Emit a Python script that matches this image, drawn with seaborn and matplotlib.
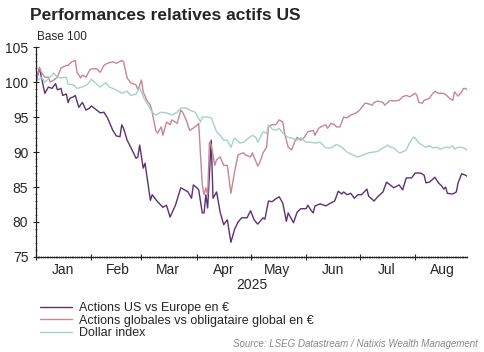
import numpy as np
import pandas as pd
import matplotlib
matplotlib.use('Agg')
import matplotlib.pyplot as plt
import matplotlib.dates as mdates
from matplotlib.ticker import MultipleLocator
import seaborn as sns

# values (days since 2025-01-01, index base 100)
us_eu_days = [0, 2, 5, 7, 9, 11, 12, 14, 15, 17, 18, 19, 21, 22, 24, 26, 28, 30, 31, 34,
              36, 38, 40, 43, 45, 47, 48, 49, 51, 53, 56, 57, 58, 60, 61, 64, 65, 68, 71, 73,
              75, 78, 81, 83, 85, 87, 88, 90, 91, 93, 94, 95, 96, 98, 99, 101, 103, 105, 106, 107,
              109, 111, 113, 115, 118, 120, 122, 124, 127, 128, 130, 132, 134, 136, 138, 140, 141, 144, 146, 148,
              151, 152, 154, 155, 156, 159, 162, 164, 167, 169, 171, 172, 174, 176, 178, 180, 182, 185, 186, 189,
              191, 194, 196, 198, 200, 203, 205, 207, 210, 212, 215, 217, 218, 220, 223, 225, 227, 228, 229, 230,
              233, 235, 236, 238, 240, 242]
us_eu = [100.0, 102.0, 98.4, 99.3, 99.1, 99.8, 98.9, 99.1, 98.1, 98.3, 97.1, 97.7, 97.9, 98.1, 96.4, 97.1, 96.0, 96.3, 96.6, 96.0,
         95.6, 95.7, 94.9, 93.1, 92.3, 92.2, 93.9, 93.4, 91.7, 90.7, 89.1, 89.3, 91.0, 87.7, 88.4, 83.1, 83.9, 82.9, 82.1, 82.4,
         80.7, 82.4, 84.9, 84.6, 84.3, 83.4, 85.3, 84.9, 84.6, 81.3, 81.3, 83.9, 82.0, 91.7, 83.4, 84.3, 81.4, 79.6, 80.0, 80.3,
         77.1, 78.9, 80.0, 80.6, 80.6, 81.6, 80.3, 79.7, 80.6, 80.4, 83.0, 82.9, 83.3, 83.6, 82.7, 80.1, 81.3, 79.9, 81.4, 81.9,
         81.9, 82.4, 81.6, 81.3, 82.3, 82.6, 82.3, 82.6, 83.0, 84.4, 84.0, 84.3, 83.9, 84.1, 83.4, 83.9, 83.9, 84.7, 83.7, 83.0,
         83.6, 84.3, 85.7, 85.3, 84.9, 85.3, 84.6, 86.3, 86.3, 87.0, 87.0, 86.7, 85.6, 85.7, 86.4, 85.6, 85.1, 84.7, 85.0, 84.1,
         84.0, 84.3, 85.6, 86.9, 86.7, 86.4]

glob_days = [0, 2, 3, 5, 7, 8, 10, 12, 14, 17, 18, 20, 22, 23, 25, 26, 28, 30, 31, 34,
             36, 38, 40, 43, 45, 48, 49, 51, 53, 56, 57, 59, 60, 62, 64, 65, 67, 68, 70, 71,
             73, 75, 76, 79, 81, 82, 84, 86, 89, 91, 93, 94, 95, 96, 97, 98, 100, 101, 103, 105,
             107, 109, 111, 113, 116, 117, 120, 121, 124, 125, 127, 129, 130, 132, 134, 136, 138, 139, 141, 143,
             145, 146, 148, 150, 152, 155, 156, 158, 160, 162, 163, 165, 167, 168, 170, 172, 174, 176, 179, 181,
             184, 186, 188, 189, 191, 194, 195, 198, 200, 203, 205, 207, 209, 212, 213, 214, 216, 217, 220, 221,
             223, 225, 228, 230, 231, 233, 234, 236, 238, 239, 240, 242]
glob = [100.0, 102.1, 101.4, 100.7, 100.7, 100.0, 100.3, 100.7, 102.0, 102.4, 102.4, 102.9, 103.1, 101.4, 100.6, 101.0, 100.7, 101.7, 101.9, 101.9,
        101.4, 102.4, 102.7, 102.9, 102.7, 103.1, 102.9, 100.6, 99.9, 99.6, 98.9, 100.3, 98.6, 97.4, 96.7, 95.7, 93.1, 92.7, 93.6, 92.4,
        94.3, 93.9, 94.6, 94.1, 96.0, 95.7, 94.6, 93.1, 93.6, 94.1, 85.3, 83.9, 84.9, 83.9, 91.4, 91.0, 88.1, 88.9, 89.3, 88.1,
        88.1, 84.1, 87.1, 89.6, 89.9, 89.6, 89.3, 89.9, 88.0, 88.4, 89.9, 90.7, 93.6, 93.9, 93.9, 94.6, 94.3, 92.7, 90.7, 90.3,
        91.7, 92.1, 91.7, 92.1, 92.9, 93.1, 92.4, 93.4, 93.7, 93.9, 93.4, 94.1, 93.9, 93.6, 93.6, 95.0, 94.9, 95.3, 95.6, 96.0,
        97.0, 96.9, 96.7, 97.1, 97.3, 97.1, 96.7, 97.4, 97.3, 97.4, 97.9, 98.1, 97.9, 98.4, 98.1, 97.1, 97.0, 97.4, 97.7, 98.1,
        98.7, 98.4, 98.4, 98.0, 97.7, 97.4, 98.6, 98.0, 98.6, 99.1, 99.1, 98.7]

dxy_days = [0, 3, 5, 8, 10, 12, 14, 17, 18, 21, 23, 26, 29, 31, 34, 36, 39, 41, 44, 47,
            48, 51, 53, 56, 58, 60, 62, 65, 67, 70, 73, 76, 79, 81, 84, 86, 89, 92, 93, 96,
            98, 101, 103, 105, 107, 109, 111, 114, 116, 119, 121, 123, 124, 127, 129, 130, 132, 134, 136, 138,
            141, 143, 146, 148, 151, 154, 156, 159, 162, 165, 168, 171, 174, 177, 180, 183, 186, 189, 191, 194,
            197, 198, 200, 203, 204, 207, 209, 211, 212, 214, 216, 218, 220, 222, 224, 226, 229, 231, 233, 234,
            236, 239, 241]
dxy = [100.0, 100.7, 100.0, 100.7, 101.3, 100.7, 100.6, 100.7, 99.7, 99.6, 99.1, 99.3, 99.7, 100.4, 99.7, 99.3, 99.9, 99.3, 99.0, 98.6,
       98.4, 98.7, 98.1, 98.3, 99.3, 97.9, 97.0, 95.7, 95.3, 95.7, 95.6, 95.3, 95.7, 96.3, 96.3, 96.0, 95.7, 94.3, 95.0, 95.0,
       94.9, 92.9, 92.4, 91.7, 91.7, 90.7, 92.0, 91.3, 91.4, 92.0, 92.4, 92.1, 91.4, 92.9, 92.7, 93.9, 93.3, 93.1, 93.4, 92.7,
       92.1, 92.0, 91.7, 92.0, 91.4, 91.4, 91.3, 91.4, 90.6, 90.6, 91.1, 90.7, 90.0, 89.6, 89.3, 89.6, 89.9, 90.0, 90.1, 90.6,
       91.0, 90.7, 90.6, 89.9, 89.9, 90.3, 91.4, 92.1, 92.0, 91.3, 91.0, 90.7, 90.9, 90.6, 90.7, 90.4, 90.7, 90.6, 90.9, 90.4,
       90.7, 90.6, 90.3]

labels = ['Actions US vs Europe en €',
          'Actions globales vs obligataire global en €',
          'Dollar index']
colors = ['#5b3176', '#c98593', '#a3d3c6']
month_names = ['Jan', 'Feb', 'Mar', 'Apr', 'May', 'Jun', 'Jul', 'Aug']

start = pd.Timestamp('2025-01-01')
frames = []
for lab, days, vals in zip(labels, [us_eu_days, glob_days, dxy_days], [us_eu, glob, dxy]):
    frames.append(pd.DataFrame({'date': start + pd.to_timedelta(days, unit='D'),
                                'value': vals, 'serie': lab}))
df = pd.concat(frames, ignore_index=True)

sns.set_style('ticks')
plt.rcParams['font.family'] = ['Liberation Sans', 'DejaVu Sans']

fig = plt.figure(figsize=(4.85, 3.52), dpi=100)
ax = fig.add_axes([0.074, 0.270, 0.889, 0.596])

sns.lineplot(data=df, x='date', y='value', hue='serie', hue_order=labels,
             palette=colors, linewidth=1.0, estimator=None, sort=False, ax=ax, legend=False)

ax.set_xlim(pd.Timestamp('2025-01-01'), pd.Timestamp('2025-08-30'))
ax.set_ylim(75, 105)
ax.yaxis.set_major_locator(MultipleLocator(5))
ax.yaxis.set_minor_locator(MultipleLocator(1))
ax.xaxis.set_major_locator(mdates.MonthLocator())
ax.xaxis.set_minor_locator(mdates.DayLocator())
ax.xaxis.set_major_formatter(plt.NullFormatter())
ax.tick_params(axis='both', which='major', length=4, width=0.8, direction='inout',
               labelsize=10, color='#222222')
ax.tick_params(axis='both', which='minor', length=2, width=0.5, direction='inout', color='#444444')
ax.set_xlabel('')
ax.set_ylabel('')
for side in ['top', 'right']:
    ax.spines[side].set_visible(False)
for side in ['left', 'bottom']:
    ax.spines[side].set_linewidth(0.9)
    ax.spines[side].set_color('#222222')

# month names centred between month boundaries
sec = ax.secondary_xaxis('bottom')
mids = pd.date_range('2025-01-01', periods=8, freq='MS') + pd.Timedelta(days=15)
sec.set_xticks(mdates.date2num(mids), month_names)
sec.tick_params(length=0, labelsize=10, pad=4)
sec.spines['bottom'].set_visible(False)
sec.set_xlabel('2025', fontsize=10, labelpad=1)

fig.text(0.062, 0.955, 'Performances relatives actifs US', fontsize=12.5,
         fontweight='bold', va='center', ha='left')
fig.text(0.076, 0.895, 'Base 100', fontsize=8.5, va='center', ha='left')

handles = [plt.Line2D([], [], color=c, linewidth=1.0) for c in colors]
fig.legend(handles, labels, loc='upper left', bbox_to_anchor=(0.082, 0.142),
           frameon=False, fontsize=9, handlelength=2.6, handletextpad=0.5,
           labelspacing=0.05, borderaxespad=0, borderpad=0)

fig.text(0.985, 0.022, 'Source: LSEG Datastream / Natixis Wealth Management',
         fontsize=7, style='italic', color='#888888', ha='right', va='center')

fig.savefig('out.png', dpi=100)
